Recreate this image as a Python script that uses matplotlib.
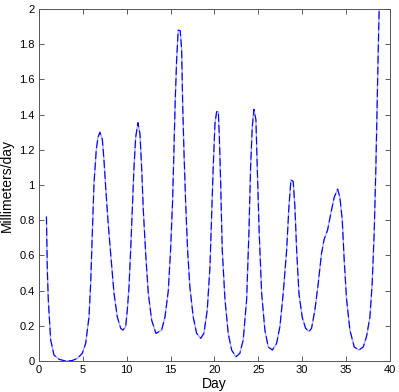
import numpy as np
import matplotlib
matplotlib.use("Agg")
import matplotlib.pyplot as plt
from matplotlib.ticker import FormatStrFormatter

# values
day = [0.85, 0.95, 1.06, 1.33, 1.71, 2.28, 3.04, 3.8, 4.37, 4.94, 5.32, 5.7,
       5.89, 6.08, 6.27, 6.53, 6.72, 6.95, 7.22, 7.41, 7.6, 7.86, 8.17, 8.55,
       8.93, 9.31, 9.57, 9.88, 10.07, 10.26, 10.45, 10.64, 10.83, 11.02, 11.28,
       11.51, 11.7, 11.89, 12.16, 12.46, 12.84, 13.33, 13.98, 14.36, 14.74,
       15.0, 15.23, 15.38, 15.53, 15.69, 15.87, 16.1, 16.26, 16.37, 16.52,
       16.71, 16.94, 17.2, 17.58, 17.97, 18.43, 18.8, 19.18, 19.49, 19.68,
       19.86, 20.06, 20.25, 20.44, 20.55, 20.71, 20.89, 21.2, 21.57, 21.96,
       22.45, 22.9, 23.28, 23.67, 23.93, 24.12, 24.31, 24.5, 24.73, 24.88,
       25.1, 25.38, 25.75, 26.13, 26.6, 27.08, 27.46, 27.84, 28.23, 28.49,
       28.72, 28.98, 29.17, 29.37, 29.63, 30.0, 30.39, 30.77, 31.07, 31.45,
       31.83, 32.2, 32.5, 32.9, 33.27, 33.65, 34.04, 34.3, 34.57, 34.79, 35.06,
       35.44, 35.93, 36.47, 36.96, 37.34, 37.72, 37.98, 38.21, 38.4, 38.55,
       38.71, 38.8]
mm_per_day = [0.82, 0.52, 0.35, 0.12, 0.034, 0.01, 0.0, 0.003, 0.015, 0.044,
              0.10, 0.25, 0.44, 0.73, 1.01, 1.20, 1.27, 1.30, 1.26, 1.14, 0.99,
              0.80, 0.61, 0.385, 0.25, 0.186, 0.176, 0.195, 0.29, 0.42, 0.63,
              0.86, 1.10, 1.27, 1.354, 1.29, 1.10, 0.86, 0.61, 0.385, 0.233,
              0.157, 0.176, 0.25, 0.40, 0.63, 0.91, 1.20, 1.48, 1.71, 1.88,
              1.877, 1.77, 1.48, 1.20, 0.91, 0.63, 0.42, 0.25, 0.157, 0.129,
              0.157, 0.29, 0.536, 0.82, 1.10, 1.35, 1.417, 1.417, 1.29, 1.01,
              0.63, 0.35, 0.157, 0.0625, 0.024, 0.044, 0.12, 0.35, 0.73, 1.10,
              1.33, 1.43, 1.37, 1.10, 0.73, 0.385, 0.176, 0.08, 0.0625, 0.10,
              0.195, 0.385, 0.63, 0.877, 1.03, 1.02, 0.877, 0.63, 0.385, 0.25,
              0.186, 0.167, 0.186, 0.29, 0.44, 0.61, 0.69, 0.745, 0.84, 0.93,
              0.977, 0.93, 0.80, 0.574, 0.35, 0.176, 0.08, 0.0625, 0.08, 0.14,
              0.25, 0.44, 0.73, 1.10, 1.48, 1.86, 2.05]

x_ticks = np.arange(0, 41, 5)
y_ticks = np.arange(0, 2.01, 0.2)

plt.rcParams['font.family'] = ['Liberation Sans', 'DejaVu Sans']

fig = plt.figure(figsize=(3.99, 3.92), dpi=100)
ax = fig.add_axes([0.0977, 0.079, 0.8795, 0.898])

# solid light trace under a dashed blue one, like the original rendering
ax.plot(day, mm_per_day, color='#a8a8ff', lw=1.0)
ax.plot(day, mm_per_day, color='#0000ff', lw=0.8, dashes=(7, 3))

ax.set_xlim(0, 40)
ax.set_ylim(0, 2)
ax.set_xticks(x_ticks)
ax.set_yticks(y_ticks)
ax.yaxis.set_major_formatter(FormatStrFormatter('%g'))
ax.tick_params(direction='in', top=True, right=True, length=3.5,
               width=0.6, color='#444444', labelsize=8, pad=3)
for s in ax.spines.values():
    s.set_color('#555555')
    s.set_linewidth(0.7)

ax.set_xlabel('Day', fontsize=10, labelpad=1)
ax.set_ylabel('Millimeters/day', fontsize=10, labelpad=4)

fig.savefig('out.png', dpi=100)
